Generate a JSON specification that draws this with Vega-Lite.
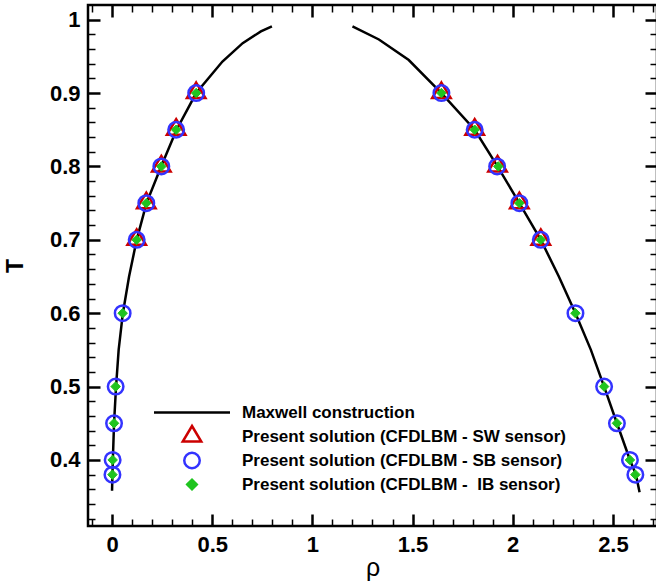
{
  "$schema": "https://vega.github.io/schema/vega-lite/v6.json",
  "width": 569,
  "height": 521,
  "padding": {"left": 88, "top": 5, "right": 0, "bottom": 58},
  "autosize": {"type": "none"},
  "background": "white",
  "config": {
    "view": {"stroke": "black", "strokeWidth": 2.5},
    "axis": {"grid": false, "domain": false, "tickColor": "black", "labelColor": "black", "titleColor": "black", "labelFlush": false, "labelOverlap": false, "labelBound": false}
  },
  "datasets": {
    "curve": [
      {"branch": "L", "rho": 0.0, "T": 0.358},
      {"branch": "L", "rho": 0.002, "T": 0.38},
      {"branch": "L", "rho": 0.004, "T": 0.4},
      {"branch": "L", "rho": 0.01, "T": 0.45},
      {"branch": "L", "rho": 0.02, "T": 0.5},
      {"branch": "L", "rho": 0.033, "T": 0.55},
      {"branch": "L", "rho": 0.054, "T": 0.6},
      {"branch": "L", "rho": 0.085, "T": 0.65},
      {"branch": "L", "rho": 0.123, "T": 0.7},
      {"branch": "L", "rho": 0.172, "T": 0.75},
      {"branch": "L", "rho": 0.245, "T": 0.8},
      {"branch": "L", "rho": 0.322, "T": 0.85},
      {"branch": "L", "rho": 0.42, "T": 0.9},
      {"branch": "L", "rho": 0.551, "T": 0.943},
      {"branch": "L", "rho": 0.652, "T": 0.968},
      {"branch": "L", "rho": 0.743, "T": 0.984},
      {"branch": "L", "rho": 0.798, "T": 0.991},
      {"branch": "R", "rho": 1.2, "T": 0.991},
      {"branch": "R", "rho": 1.332, "T": 0.973},
      {"branch": "R", "rho": 1.481, "T": 0.945},
      {"branch": "R", "rho": 1.644, "T": 0.9},
      {"branch": "R", "rho": 1.81, "T": 0.85},
      {"branch": "R", "rho": 1.924, "T": 0.8},
      {"branch": "R", "rho": 2.033, "T": 0.75},
      {"branch": "R", "rho": 2.14, "T": 0.7},
      {"branch": "R", "rho": 2.23, "T": 0.65},
      {"branch": "R", "rho": 2.313, "T": 0.6},
      {"branch": "R", "rho": 2.39, "T": 0.55},
      {"branch": "R", "rho": 2.456, "T": 0.5},
      {"branch": "R", "rho": 2.52, "T": 0.45},
      {"branch": "R", "rho": 2.585, "T": 0.4},
      {"branch": "R", "rho": 2.615, "T": 0.38},
      {"branch": "R", "rho": 2.633, "T": 0.356}
    ],
    "sw": [
      {"series": "Present solution (CFDLBM - SW sensor)", "rho": 0.123, "T": 0.7},
      {"series": "Present solution (CFDLBM - SW sensor)", "rho": 0.171, "T": 0.75},
      {"series": "Present solution (CFDLBM - SW sensor)", "rho": 0.246, "T": 0.8},
      {"series": "Present solution (CFDLBM - SW sensor)", "rho": 0.32, "T": 0.85},
      {"series": "Present solution (CFDLBM - SW sensor)", "rho": 0.42, "T": 0.9},
      {"series": "Present solution (CFDLBM - SW sensor)", "rho": 1.644, "T": 0.9},
      {"series": "Present solution (CFDLBM - SW sensor)", "rho": 1.81, "T": 0.85},
      {"series": "Present solution (CFDLBM - SW sensor)", "rho": 1.924, "T": 0.8},
      {"series": "Present solution (CFDLBM - SW sensor)", "rho": 2.033, "T": 0.75},
      {"series": "Present solution (CFDLBM - SW sensor)", "rho": 2.14, "T": 0.7}
    ],
    "sb": [
      {"series": "Present solution (CFDLBM - SB sensor)", "rho": 0.002, "T": 0.38},
      {"series": "Present solution (CFDLBM - SB sensor)", "rho": 0.003, "T": 0.4},
      {"series": "Present solution (CFDLBM - SB sensor)", "rho": 0.01, "T": 0.45},
      {"series": "Present solution (CFDLBM - SB sensor)", "rho": 0.018, "T": 0.5},
      {"series": "Present solution (CFDLBM - SB sensor)", "rho": 0.053, "T": 0.6},
      {"series": "Present solution (CFDLBM - SB sensor)", "rho": 0.123, "T": 0.7},
      {"series": "Present solution (CFDLBM - SB sensor)", "rho": 0.171, "T": 0.75},
      {"series": "Present solution (CFDLBM - SB sensor)", "rho": 0.246, "T": 0.8},
      {"series": "Present solution (CFDLBM - SB sensor)", "rho": 0.32, "T": 0.85},
      {"series": "Present solution (CFDLBM - SB sensor)", "rho": 0.42, "T": 0.9},
      {"series": "Present solution (CFDLBM - SB sensor)", "rho": 1.644, "T": 0.9},
      {"series": "Present solution (CFDLBM - SB sensor)", "rho": 1.81, "T": 0.85},
      {"series": "Present solution (CFDLBM - SB sensor)", "rho": 1.922, "T": 0.8},
      {"series": "Present solution (CFDLBM - SB sensor)", "rho": 2.033, "T": 0.75},
      {"series": "Present solution (CFDLBM - SB sensor)", "rho": 2.14, "T": 0.7},
      {"series": "Present solution (CFDLBM - SB sensor)", "rho": 2.313, "T": 0.6},
      {"series": "Present solution (CFDLBM - SB sensor)", "rho": 2.456, "T": 0.5},
      {"series": "Present solution (CFDLBM - SB sensor)", "rho": 2.52, "T": 0.45},
      {"series": "Present solution (CFDLBM - SB sensor)", "rho": 2.585, "T": 0.4},
      {"series": "Present solution (CFDLBM - SB sensor)", "rho": 2.612, "T": 0.38}
    ],
    "ib": [
      {"series": "Present solution (CFDLBM - \u00a0IB sensor)", "rho": 0.002, "T": 0.38},
      {"series": "Present solution (CFDLBM - \u00a0IB sensor)", "rho": 0.003, "T": 0.4},
      {"series": "Present solution (CFDLBM - \u00a0IB sensor)", "rho": 0.01, "T": 0.45},
      {"series": "Present solution (CFDLBM - \u00a0IB sensor)", "rho": 0.018, "T": 0.5},
      {"series": "Present solution (CFDLBM - \u00a0IB sensor)", "rho": 0.053, "T": 0.6},
      {"series": "Present solution (CFDLBM - \u00a0IB sensor)", "rho": 0.123, "T": 0.7},
      {"series": "Present solution (CFDLBM - \u00a0IB sensor)", "rho": 0.171, "T": 0.75},
      {"series": "Present solution (CFDLBM - \u00a0IB sensor)", "rho": 0.246, "T": 0.8},
      {"series": "Present solution (CFDLBM - \u00a0IB sensor)", "rho": 0.32, "T": 0.85},
      {"series": "Present solution (CFDLBM - \u00a0IB sensor)", "rho": 0.42, "T": 0.9},
      {"series": "Present solution (CFDLBM - \u00a0IB sensor)", "rho": 1.644, "T": 0.9},
      {"series": "Present solution (CFDLBM - \u00a0IB sensor)", "rho": 1.81, "T": 0.85},
      {"series": "Present solution (CFDLBM - \u00a0IB sensor)", "rho": 1.928, "T": 0.8},
      {"series": "Present solution (CFDLBM - \u00a0IB sensor)", "rho": 2.033, "T": 0.75},
      {"series": "Present solution (CFDLBM - \u00a0IB sensor)", "rho": 2.14, "T": 0.7},
      {"series": "Present solution (CFDLBM - \u00a0IB sensor)", "rho": 2.313, "T": 0.6},
      {"series": "Present solution (CFDLBM - \u00a0IB sensor)", "rho": 2.456, "T": 0.5},
      {"series": "Present solution (CFDLBM - \u00a0IB sensor)", "rho": 2.52, "T": 0.45},
      {"series": "Present solution (CFDLBM - \u00a0IB sensor)", "rho": 2.585, "T": 0.4},
      {"series": "Present solution (CFDLBM - \u00a0IB sensor)", "rho": 2.612, "T": 0.38}
    ]
  },
  "layer": [
    {
      "data": {"name": "curve"},
      "mark": {"type": "line", "color": "black", "strokeWidth": 2.5},
      "encoding": {
        "x": {"field": "rho", "type": "quantitative", "scale": {"domain": [-0.12, 2.72], "nice": false, "zero": false},
          "axis": {"orient": "bottom", "values": [0, 0.5, 1, 1.5, 2, 2.5], "format": ".1~f", "tickSize": -12, "tickWidth": 2.5, "labelFont": "Liberation Sans", "labelFontWeight": "bold", "labelFontSize": 22, "labelPadding": 20, "title": "ρ", "titleFont": "Liberation Sans", "titleFontWeight": "normal", "titleFontSize": 25, "titlePadding": 0}},
        "y": {"field": "T", "type": "quantitative", "scale": {"domain": [0.31, 1.02], "nice": false, "zero": false},
          "axis": {"orient": "left", "values": [0.4, 0.5, 0.6, 0.7, 0.8, 0.9, 1], "format": ".1~f", "tickSize": -12, "tickWidth": 2.5, "labelFont": "Liberation Sans", "labelFontWeight": "bold", "labelFontSize": 22, "labelPadding": 20, "title": "T", "titleFont": "Liberation Sans", "titleFontWeight": "bold", "titleFontSize": 23, "titlePadding": 22}},
        "detail": {"field": "branch"}
      }
    },
    {
      "data": {"name": "sw"},
      "mark": {"type": "point", "filled": true, "strokeWidth": 2.5, "size": 100, "opacity": 1},
      "encoding": {
        "x": {"field": "rho", "type": "quantitative",
          "axis": {"orient": "bottom", "values": [-0.1, 0.1, 0.2, 0.3, 0.4, 0.6, 0.7, 0.8, 0.9, 1.1, 1.2, 1.3, 1.4, 1.6, 1.7, 1.8, 1.9, 2.1, 2.2, 2.3, 2.4, 2.6, 2.7], "tickSize": -7, "tickWidth": 1.5, "labels": false, "title": null}},
        "y": {"field": "T", "type": "quantitative",
          "axis": {"orient": "left", "values": [0.32, 0.34, 0.36, 0.38, 0.42, 0.44, 0.46, 0.48, 0.52, 0.54, 0.56, 0.58, 0.62, 0.64, 0.66, 0.68, 0.72, 0.74, 0.76, 0.78, 0.82, 0.84, 0.86, 0.88, 0.92, 0.94, 0.96, 0.98], "tickSize": -7, "tickWidth": 1.5, "labels": false, "title": null}},
        "shape": {"field": "series", "type": "nominal",
          "scale": {"domain": ["Maxwell construction", "Present solution (CFDLBM - SW sensor)", "Present solution (CFDLBM - SB sensor)", "Present solution (CFDLBM - \u00a0IB sensor)"], "range": ["M-7.6,0L7.6,0", "M0,-2.1L1.85,1L-1.85,1Z", "M-1.55,0A1.55,1.55,0,1,0,1.55,0A1.55,1.55,0,1,0,-1.55,0Z", "M-0.95,0L0,-0.95L0.95,0L0,0.95Z"]},
          "legend": {"orient": "none", "legendX": 95.5, "legendY": 399, "title": null, "padding": 0, "labelFont": "Liberation Sans", "labelFontWeight": "bold", "labelFontSize": 17, "labelColor": "black", "labelOffset": 41.5, "labelLimit": 600, "rowPadding": 0, "symbolSize": 100, "symbolStrokeWidth": 2.5}},
        "stroke": {"field": "series", "type": "nominal",
          "scale": {"domain": ["Maxwell construction", "Present solution (CFDLBM - SW sensor)", "Present solution (CFDLBM - SB sensor)", "Present solution (CFDLBM - \u00a0IB sensor)"], "range": ["black", "#cc0000", "#3333ff", "#1fc41f"]}},
        "fill": {"field": "series", "type": "nominal",
          "scale": {"domain": ["Maxwell construction", "Present solution (CFDLBM - SW sensor)", "Present solution (CFDLBM - SB sensor)", "Present solution (CFDLBM - \u00a0IB sensor)"], "range": ["transparent", "transparent", "transparent", "#1fc41f"]}}
      }
    },
    {
      "data": {"name": "sb"},
      "mark": {"type": "point", "filled": true, "strokeWidth": 2.5, "size": 100, "opacity": 1},
      "encoding": {
        "x": {"field": "rho", "type": "quantitative",
          "axis": {"orient": "top", "values": [0, 0.5, 1, 1.5, 2, 2.5], "tickSize": -12, "tickWidth": 2.5, "labels": false, "title": null}},
        "y": {"field": "T", "type": "quantitative",
          "axis": {"orient": "right", "values": [0.4, 0.5, 0.6, 0.7, 0.8, 0.9, 1], "tickSize": -12, "tickWidth": 2.5, "labels": false, "title": null}},
        "shape": {"field": "series", "type": "nominal"},
        "stroke": {"field": "series", "type": "nominal"},
        "fill": {"field": "series", "type": "nominal"}
      }
    },
    {
      "data": {"name": "ib"},
      "mark": {"type": "point", "filled": true, "strokeWidth": 1, "size": 100, "opacity": 1},
      "encoding": {
        "x": {"field": "rho", "type": "quantitative",
          "axis": {"orient": "top", "values": [-0.1, 0.1, 0.2, 0.3, 0.4, 0.6, 0.7, 0.8, 0.9, 1.1, 1.2, 1.3, 1.4, 1.6, 1.7, 1.8, 1.9, 2.1, 2.2, 2.3, 2.4, 2.6, 2.7], "tickSize": -7, "tickWidth": 1.5, "labels": false, "title": null}},
        "y": {"field": "T", "type": "quantitative",
          "axis": {"orient": "right", "values": [0.32, 0.34, 0.36, 0.38, 0.42, 0.44, 0.46, 0.48, 0.52, 0.54, 0.56, 0.58, 0.62, 0.64, 0.66, 0.68, 0.72, 0.74, 0.76, 0.78, 0.82, 0.84, 0.86, 0.88, 0.92, 0.94, 0.96, 0.98], "tickSize": -7, "tickWidth": 1.5, "labels": false, "title": null}},
        "shape": {"field": "series", "type": "nominal"},
        "stroke": {"field": "series", "type": "nominal"},
        "fill": {"field": "series", "type": "nominal"}
      }
    }
  ],
  "resolve": {"axis": {"x": "independent", "y": "independent"}}
}
